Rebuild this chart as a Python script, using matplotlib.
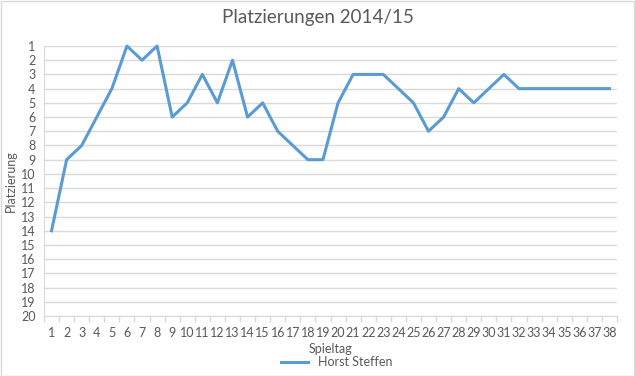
import numpy as np
import matplotlib.pyplot as plt
from matplotlib.ticker import FixedLocator

# Data
spieltage = list(range(1, 39))
platzierung = [14, 9, 8, 6, 4, 1, 2, 1, 6, 5, 3, 5, 2, 6, 5, 7, 8, 9, 9, 5,
               3, 3, 3, 4, 5, 7, 6, 4, 5, 4, 3, 4, 4, 4, 4, 4, 4, 4]
series_name = 'Horst Steffen'
title = 'Platzierungen 2014/15'

text_col = '#595959'
grid_col = '#d9d9d9'
line_col = '#5b9bd5'

plt.rcParams['font.family'] = ['Lato', 'DejaVu Sans']

fig = plt.figure(figsize=(6.35, 3.76), dpi=100)
ax = fig.add_axes([44 / 635, 1 - 316 / 376, (617 - 44) / 635, (316 - 46) / 376])

ax.plot(spieltage, platzierung, color=line_col, linewidth=2.2,
        solid_joinstyle='round', label=series_name, clip_on=False, zorder=3)

ax.set_xlim(0.5, 38.5)
ax.set_ylim(20, 1)

# y axis: ranks with horizontal gridlines
ax.set_yticks(range(1, 21))
ax.yaxis.grid(True, color=grid_col, linewidth=1)
ax.set_axisbelow(True)

# x axis: labels at categories, tick marks between them
ax.set_xticks(spieltage)
ax.xaxis.set_minor_locator(FixedLocator(np.arange(0.5, 39, 1)))
ax.tick_params(axis='x', which='major', length=0, pad=8, labelsize=9, labelcolor=text_col)
ax.tick_params(axis='x', which='minor', length=4, color=grid_col, width=1)
ax.tick_params(axis='y', length=0, pad=6, labelsize=9, labelcolor=text_col)

for s in ['top', 'right']:
    ax.spines[s].set_visible(False)
ax.spines['left'].set_color(grid_col)
ax.spines['bottom'].set_color(grid_col)

ax.set_xlabel('Spieltag', color=text_col, fontsize=9, labelpad=3)
ax.set_ylabel('Platzierung', color=text_col, fontsize=9, labelpad=3)
fig.suptitle(title, color=text_col, fontsize=13.5, y=0.975)

fig.legend(loc='center', bbox_to_anchor=(0.53, 0.037), frameon=False,
           fontsize=9, handlelength=2.2, labelcolor=text_col)

# chart border
fig.patches.append(plt.Rectangle((0.001, 0.001), 0.997, 0.996, transform=fig.transFigure,
                                 fill=False, edgecolor=grid_col, linewidth=1))

fig.savefig('out.png', dpi=100)
